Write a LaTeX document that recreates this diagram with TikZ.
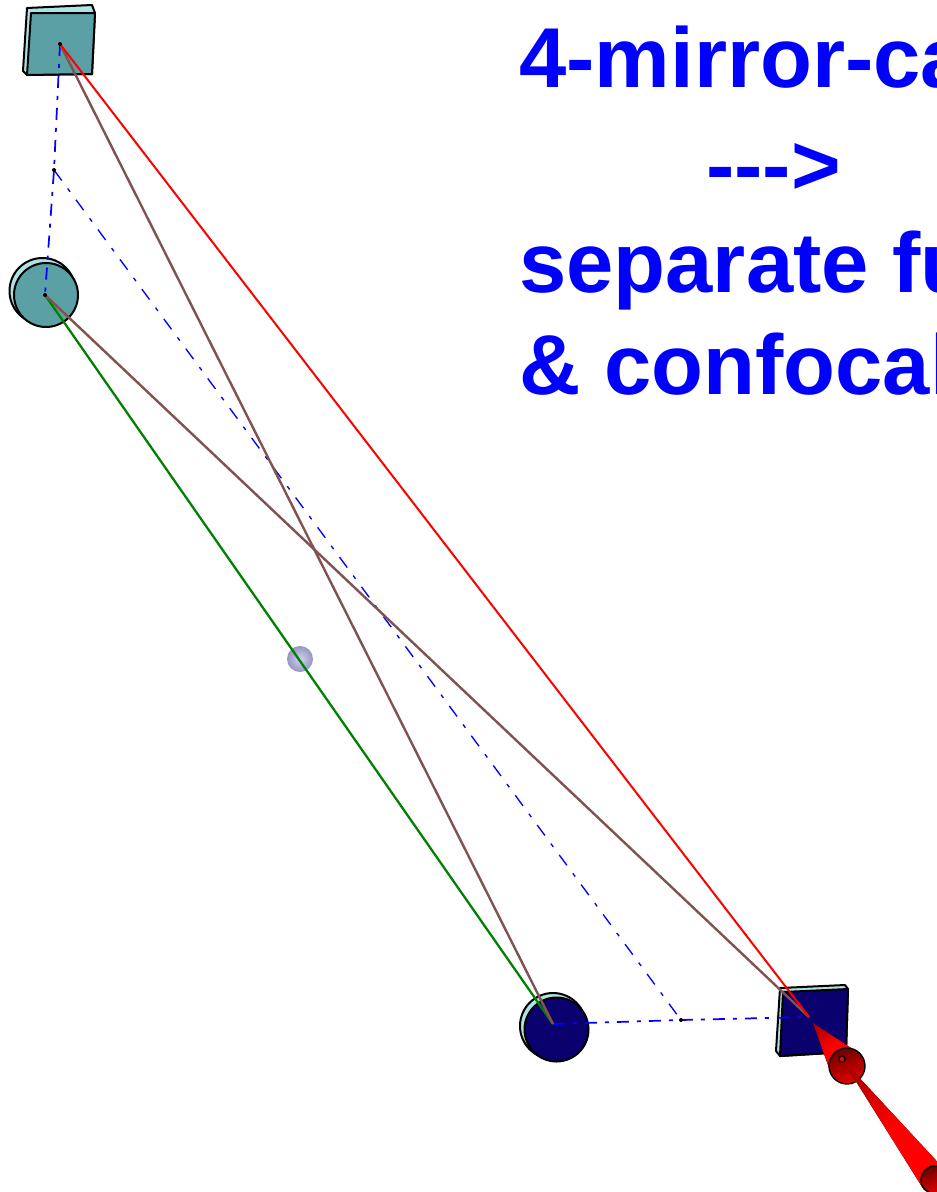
\documentclass[tikz,border=0pt]{standalone}
\usepackage{fontspec}
\setmainfont{Liberation Sans}
\usetikzlibrary{positioning,calc}
\definecolor{tealface}{RGB}{91,160,165}
\definecolor{paleedge}{RGB}{175,226,226}
\definecolor{navyface}{RGB}{10,0,110}
\definecolor{beambrown}{RGB}{130,82,82}
\definecolor{beamgreen}{RGB}{0,128,0}
\definecolor{titleblue}{RGB}{0,0,255}
\definecolor{darkred}{RGB}{110,0,0}
\definecolor{ballin}{RGB}{210,210,238}
\definecolor{ballout}{RGB}{150,150,195}
\begin{document}
\begin{tikzpicture}[
  x=0.75pt,y=-0.75pt,
  face/.style={draw=black,line width=1.5pt,line join=round},
  rim/.style={face,fill=paleedge},
  title/.style={anchor=base west,inner sep=0pt,text=titleblue,font=\bfseries\fontsize{63.75}{70}\selectfont},
  axisline/.style={titleblue,line width=1.3pt,dash pattern=on 9pt off 6pt on 3pt off 6pt},
  thinaxis/.style={titleblue,line width=1pt,dash pattern=on 9.75pt off 7.5pt on 3pt off 7.5pt},
  redbeam/.style={red,line width=1.5pt},
  brownbeam/.style={beambrown,line width=1.8pt},
  greenbeam/.style={beamgreen,line width=1.7pt},
  spot/.style={circle,fill=black,inner sep=0pt,minimum size=3pt},
  cone/.style={draw=none,left color=red!72!black,right color=red,middle color=red,shading angle=40},
  disc/.style={draw=black,line width=1pt,left color=darkred,right color=red!90!black,shading angle=20},
]
\clip (0,0) rectangle (937,1192);
% beam points
\coordinate (mA) at (60,44);
\coordinate (mB) at (45,295);
\coordinate (mC) at (553,1024);
\coordinate (mD) at (809,1017);
\coordinate (foldtop) at (54,170);
\coordinate (foldbot) at (681,1020);
% mirrors
\draw[rim] (27,8) -- (92,5) -- (95,13) -- (92,74) -- (27,75) -- (23,71) -- cycle;
\draw[face,fill=tealface] (31,13) -- (95,13) -- (92,74) -- (27,75) -- cycle;
\draw[rim] (42.5,291) circle (33);
\draw[face,fill=tealface] (46,295) circle (32);
\draw[rim] (553,1026) circle (33);
\draw[face,fill=navyface] (556.5,1029.5) circle (32);
\draw[rim] (780,988) -- (845,985) -- (848,989) -- (846,1052) -- (780,1056) -- (776,1051) -- cycle;
\draw[face,fill=navyface] (783,992) -- (848,989) -- (846,1052) -- (780,1056) -- cycle;
% focus ball
\shade[inner color=ballin,outer color=ballout] (300,659) circle (13);
% axis
\draw[axisline] (mA) -- (foldtop) -- (mB);
\draw[thinaxis] (foldtop) -- (foldbot);
\draw[axisline] (mC) -- (foldbot) -- (mD);
% beams
\draw[greenbeam] (mB) -- (mC);
\draw[brownbeam] (mA) -- (mC);
\draw[brownbeam] (mB) -- (mD);
\draw[redbeam] (mA) -- (mD);
% small dots on the points
\foreach \p in {mA,mB,foldtop,foldbot}
  \node[spot] at (\p) {};
% red arrow
\coordinate (tipA) at (813,1023);
\coordinate (tipB) at (842,1059);
\fill[cone] (tipA) -- (851,1048) -- (829,1068) -- cycle;
\draw[disc] (847,1066) circle (18);
\fill[cone] (tipB) -- (945,1170) -- (924,1190) -- cycle;
\draw[disc] (935,1180) circle (14);
\fill[red] (tipB) circle (3);
\draw[black,line width=1pt] (tipB) circle (3);
% title
\node[title] (lineA) at (519,87)  {4-mirror-ca};
\node[title] (lineB) at (706,194) {-{}-{}->};
\node[title] (lineC) at (519,292) {separate fu};
\node[title] (lineD) at (519,394) {\& confocal};
\end{tikzpicture}
\end{document}
